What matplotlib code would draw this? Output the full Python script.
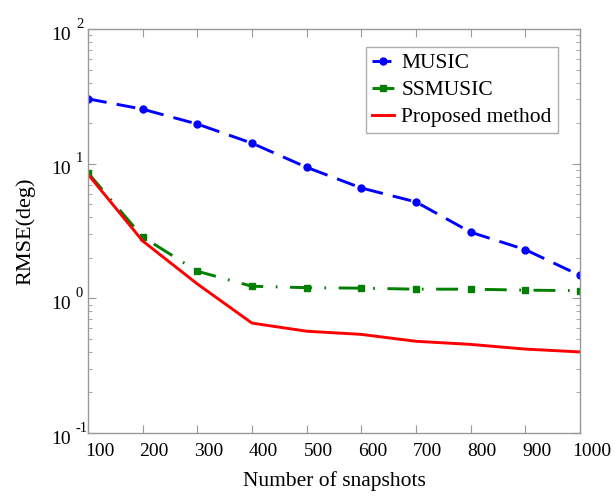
import matplotlib
matplotlib.use("Agg")
import matplotlib.pyplot as plt
import matplotlib.transforms as mtransforms
from matplotlib.ticker import LogLocator, NullFormatter, FixedLocator

snapshots = [100, 200, 300, 400, 500, 600, 700, 800, 900, 1000]
music = [30.3, 25.4, 19.7, 14.2, 9.4, 6.6, 5.2, 3.1, 2.3, 1.48]
ssmusic = [8.55, 2.86, 1.59, 1.23, 1.20, 1.19, 1.17, 1.17, 1.15, 1.14]
proposed = [8.35, 2.67, 1.28, 0.655, 0.57, 0.54, 0.48, 0.455, 0.42, 0.40]
labels = ["MUSIC", "SSMUSIC", "Proposed method"]
xticks = [100, 200, 300, 400, 500, 600, 700, 800, 900, 1000]
yticks = [0.1, 1, 10, 100]
yexponents = ["-1", "0", "1", "2"]

plt.rcParams['font.family'] = ['Liberation Serif', 'DejaVu Serif']

fig = plt.figure(figsize=(6.15, 4.96), dpi=100)
ax = fig.add_axes([0.143, 0.127, 0.800, 0.8145])

ax.plot(snapshots, music, color='#0000ff', linestyle=(0, (6.5, 3.5)), linewidth=2.1,
        marker='o', markersize=5, label=labels[0])
ax.plot(snapshots, ssmusic, color='#008000', linestyle=(0, (7.5, 4.3, 0.6, 4.3)), linewidth=2.1,
        marker='s', markersize=4.5, label=labels[1])
ax.plot(snapshots, proposed, color='#ff0000', linestyle='-', linewidth=2.1,
        label=labels[2])

ax.set_yscale('log')
ax.set_ylim(0.1, 100)
ax.set_xlim(100, 1000)
ax.set_xticks(xticks)
ax.set_xticklabels([str(v) for v in xticks])
ax.yaxis.set_major_locator(FixedLocator(yticks))
ax.set_yticklabels(["10"] * len(yticks))
ax.yaxis.set_minor_locator(LogLocator(base=10, subs=range(2, 10), numticks=20))
ax.yaxis.set_minor_formatter(NullFormatter())

for s in ax.spines.values():
    s.set_color('#999999')
    s.set_linewidth(1.0)
ax.tick_params(which='both', direction='in', top=True, right=True, color='#999999')
ax.tick_params(which='major', length=6, labelsize=14)
ax.tick_params(which='minor', length=3)
ax.tick_params(axis='y', which='major', pad=12)
ax.tick_params(axis='x', which='major', pad=7)

offx = mtransforms.ScaledTranslation(11.5 / 100, 0, fig.dpi_scale_trans)
for lab in ax.get_xticklabels():
    lab.set_transform(lab.get_transform() + offx)
offy = mtransforms.ScaledTranslation(0, -4 / 100, fig.dpi_scale_trans)
for lab in ax.get_yticklabels():
    lab.set_transform(lab.get_transform() + offy)

# exponents of the y tick labels, raised above the "10"
exp_tr = ax.get_yaxis_transform() + mtransforms.ScaledTranslation(-12 / 100, 5 / 100, fig.dpi_scale_trans)
for yv, ex in zip(yticks, yexponents):
    ax.text(0, yv, ex, transform=exp_tr, fontsize=10.5, ha='left', va='center')

ax.set_xlabel('Number of snapshots', fontsize=15.5, labelpad=8)
ax.set_ylabel('RMSE(deg)', fontsize=16, labelpad=12)

leg = ax.legend(loc='upper right', bbox_to_anchor=(0.955, 0.955), fontsize=15.5,
                frameon=True, fancybox=False, edgecolor='#999999',
                handlelength=1.0, handletextpad=0.35, borderpad=0.28,
                labelspacing=0.32, borderaxespad=0.0)
leg.get_frame().set_linewidth(1.0)

fig.savefig('out.png', dpi=100)
